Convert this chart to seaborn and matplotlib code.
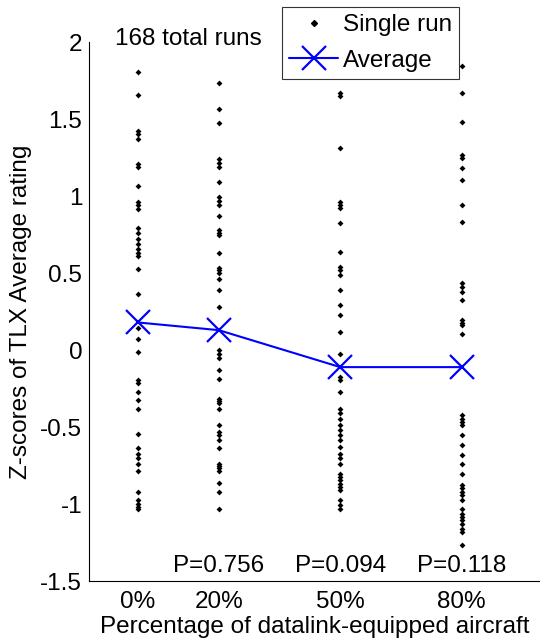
import pandas as pd
import matplotlib
matplotlib.use('Agg')
import matplotlib.pyplot as plt
import seaborn as sns
from matplotlib.lines import Line2D

# percentage of datalink-equipped aircraft
pct_levels = [0, 20, 50, 80]
tick_labels = ['0%', '20%', '50%', '80%']

# z-scores of single runs
z_0 = [1.807, 1.656, 1.424, 1.403, 1.368, 1.208, 1.190, 1.067, 0.965, 0.940,
       0.918, 0.790, 0.758, 0.721, 0.688, 0.656, 0.634, 0.612, 0.530, 0.364,
       0.141, 0.071, -0.011, -0.195, -0.210, -0.271, -0.325, -0.379, -0.541,
       -0.632, -0.675, -0.703, -0.736, -0.784, -0.920, -0.974, -0.996,
       -1.017, -1.032]
z_20 = [1.736, 1.563, 1.472, 1.238, 1.216, 1.190, 1.093, 0.996, 0.968, 0.940,
        0.874, 0.779, 0.762, 0.747, 0.632, 0.535, 0.519, 0.504, 0.459, 0.390,
        0.281, 0.000, -0.022, -0.054, -0.130, -0.184, -0.314, -0.329, -0.346,
        -0.379, -0.487, -0.530, -0.552, -0.584, -0.638, -0.736, -0.751,
        -0.768, -0.784, -0.862, -0.924, -1.034]
z_50 = [1.667, 1.650, 1.314, 0.963, 0.942, 0.920, 0.823, 0.638, 0.541, 0.519,
        0.487, 0.390, 0.292, 0.227, 0.115, -0.022, -0.173, -0.195, -0.271,
        -0.379, -0.411, -0.444, -0.487, -0.519, -0.552, -0.584, -0.628,
        -0.671, -0.703, -0.736, -0.801, -0.823, -0.844, -0.866, -0.887,
        -0.909, -0.974, -1.006, -1.034]
z_80 = [1.844, 1.671, 1.483, 1.266, 1.245, 1.180, 1.104, 0.942, 0.833, 0.437,
        0.411, 0.375, 0.325, 0.195, 0.177, 0.162, 0.108, -0.422, -0.444,
        -0.465, -0.487, -0.552, -0.617, -0.682, -0.736, -0.801, -0.877,
        -0.898, -0.920, -0.942, -0.974, -1.028, -1.061, -1.082, -1.104,
        -1.126, -1.158, -1.180, -1.266]

averages = [0.18, 0.13, -0.11, -0.11]
p_values = ['', 'P=0.756', 'P=0.094', 'P=0.118']

rows = []
for pct, zs in zip(pct_levels, [z_0, z_20, z_50, z_80]):
    for z in zs:
        rows.append({'pct': pct, 'z': z})
runs = pd.DataFrame(rows)

sns.set_style('white')
plt.rcParams['font.family'] = ['Liberation Sans', 'DejaVu Sans']
plt.rcParams['text.color'] = 'black'
plt.rcParams['axes.labelcolor'] = 'black'
fs = 17.5

fig = plt.figure(figsize=(5.4, 6.38), dpi=100)
ax = fig.add_axes([0.165, 0.089, 0.835, 0.845])

sns.stripplot(data=runs, x='pct', y='z', native_scale=True, jitter=False,
              color='black', marker='D', size=3, linewidth=0, ax=ax, zorder=2)
sns.lineplot(x=pct_levels, y=averages, color='blue', marker='x', markersize=17,
             markeredgewidth=1.6, linewidth=1.5, markeredgecolor='blue', ax=ax, zorder=3)

ax.set_xlim(-12, 99.3)
ax.set_ylim(-1.5, 2)
ax.set_xticks(pct_levels)
ax.set_xticklabels(tick_labels)
ax.set_yticks([-1.5, -1, -0.5, 0, 0.5, 1, 1.5, 2])
ax.set_yticklabels(['-1.5', '-1', '-0.5', '0', '0.5', '1', '1.5', '2'])
ax.tick_params(direction='in', length=5, width=0.8, labelsize=fs, colors='black', pad=5)
ax.tick_params(axis='x', pad=7)

for side in ['top', 'right']:
    ax.spines[side].set_visible(False)
for side in ['left', 'bottom']:
    ax.spines[side].set_color('black')
    ax.spines[side].set_linewidth(0.8)

ax.set_xlabel('Percentage of datalink-equipped aircraft', fontsize=fs, labelpad=2)
ax.set_ylabel('Z-scores of TLX Average rating', fontsize=fs, labelpad=6)

for pct, p in zip(pct_levels, p_values):
    if p:
        ax.text(pct, -1.40, p, ha='center', va='center', fontsize=fs)

ax.text(-5.5, 2.02, '168 total runs', ha='left', va='center', fontsize=fs, clip_on=False)

handles = [
    Line2D([], [], color='black', marker='D', markersize=3, linestyle='none'),
    Line2D([], [], color='blue', marker='x', markersize=17, markeredgewidth=1.6, linewidth=1.5),
]
leg = ax.legend(handles, ['Single run', 'Average'], loc='upper left',
                bbox_to_anchor=(282 / 540, 1 - 7 / 638),
                bbox_transform=fig.transFigure, fontsize=fs, frameon=True,
                fancybox=False, borderpad=0.3, handlelength=2.0, handletextpad=0.2,
                labelspacing=0.55, borderaxespad=0)
leg.get_frame().set_edgecolor('black')
leg.get_frame().set_linewidth(0.8)

fig.savefig('out.png', dpi=100)
